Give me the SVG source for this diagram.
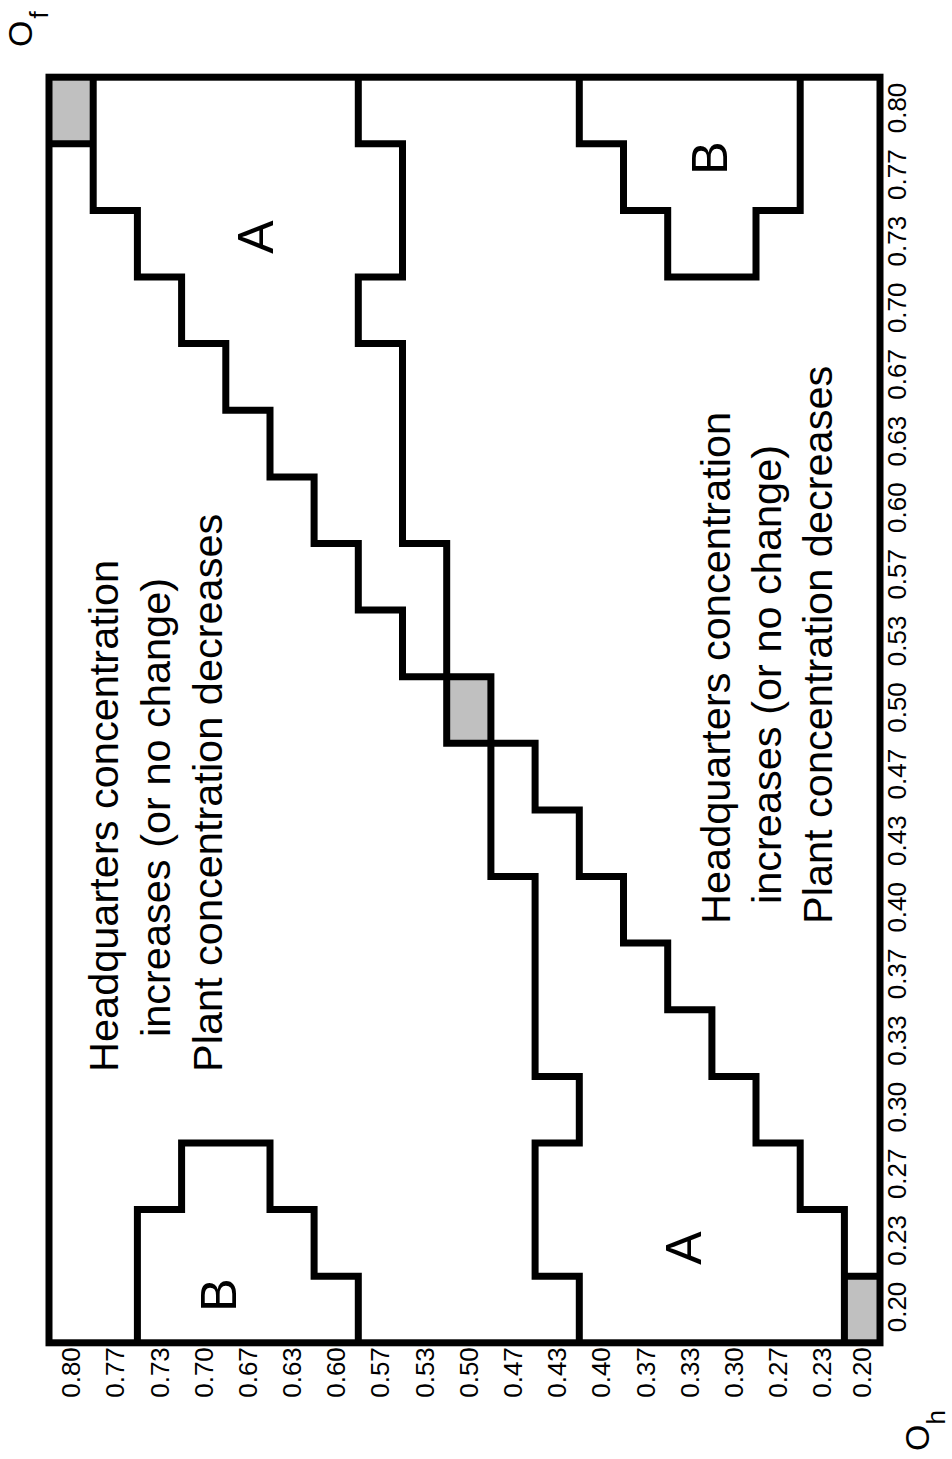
<svg xmlns="http://www.w3.org/2000/svg" width="952" height="1459" viewBox="0 0 952 1459">
<style>
.ln{fill:none;stroke:#000;stroke-width:7;stroke-linejoin:miter;stroke-linecap:butt}
.gray{fill:#c0c0c0;stroke:none}
.tk{font-family:"Liberation Sans",Arial,sans-serif;font-size:26px;fill:#000;text-anchor:middle}
.main{font-family:"Liberation Sans",Arial,sans-serif;font-size:41.5px;fill:#000;text-anchor:start}
.reg{font-family:"Liberation Sans",Arial,sans-serif;font-size:50px;fill:#000;text-anchor:middle}
.ax{font-family:"Liberation Sans",Arial,sans-serif;font-size:34px;fill:#000}
.sub{font-size:26px}
</style>
<rect width="952" height="1459" fill="#fff"/>
<g id="cells">
<rect class="gray" x="49" y="77.2" width="44.2" height="66.6"/>
<rect class="gray" x="446.7" y="676.7" width="44.2" height="66.6"/>
<rect class="gray" x="844.4" y="1276.2" width="35.6" height="66.6"/>
</g>
<g id="boundaries">
<path id="path1" class="ln" d="M93.2,77.2 V210.4 H137.4 V277 H181.6 V343.6 H225.8 V410.3 H270 V476.9 H314.1 V543.5 H358.3 V610.1 H402.5 V676.7 H490.9 V876.5 H535.1 V1076.4 H579.3 V1143 H535.1 V1276.2 H579.3 V1342.8"/>
<path id="path2" class="ln" d="M358.3,77.2 V143.8 H402.5 V277 H358.3 V343.6 H402.5 V543.5 H446.7 V743.3 H535.1 V809.9 H579.3 V876.5 H623.5 V943.1 H667.7 V1009.7 H711.9 V1076.4 H756 V1143 H800.2 V1209.6 H844.4 V1342.8"/>
<path id="bTop" class="ln" d="M579.3,77.2 V143.8 H623.5 V210.4 H667.7 V277 H756 V210.4 H800.2 V77.2"/>
<path id="bBottom" class="ln" d="M358.3,1342.8 V1276.2 H314.1 V1209.6 H270 V1143 H181.6 V1209.6 H137.4 V1342.8"/>
<path class="ln" d="M49,143.8 H93.2 M844.4,1276.2 H880"/>
</g>
<g id="frame">
<rect class="ln" x="49" y="77.2" width="831" height="1265.6"/>
</g>
<g id="region-labels">
<text class="reg" transform="translate(273,237) rotate(-90)">A</text>
<text class="reg" transform="translate(727,158) rotate(-90)">B</text>
<text class="reg" transform="translate(236,1295) rotate(-90)">B</text>
<text class="reg" transform="translate(701,1248) rotate(-90)">A</text>
</g>
<g id="text-left">
<text class="main" transform="translate(118,1072) rotate(-90)">Headquarters concentration</text>
<text class="main" transform="translate(170,1037) rotate(-90)">increases (or no change)</text>
<text class="main" transform="translate(222,1072) rotate(-90)">Plant concentration decreases</text>
</g>
<g id="text-right">
<text class="main" transform="translate(730,924) rotate(-90)">Headquarters concentration</text>
<text class="main" transform="translate(781,904) rotate(-90)">increases (or no change)</text>
<text class="main" transform="translate(832,924) rotate(-90)">Plant concentration decreases</text>
</g>
<g id="axis-of">
<text class="tk" transform="translate(906,108) rotate(-90)">0.80</text>
<text class="tk" transform="translate(906,174.6) rotate(-90)">0.77</text>
<text class="tk" transform="translate(906,241.2) rotate(-90)">0.73</text>
<text class="tk" transform="translate(906,307.8) rotate(-90)">0.70</text>
<text class="tk" transform="translate(906,374.4) rotate(-90)">0.67</text>
<text class="tk" transform="translate(906,441.1) rotate(-90)">0.63</text>
<text class="tk" transform="translate(906,507.7) rotate(-90)">0.60</text>
<text class="tk" transform="translate(906,574.3) rotate(-90)">0.57</text>
<text class="tk" transform="translate(906,640.9) rotate(-90)">0.53</text>
<text class="tk" transform="translate(906,707.5) rotate(-90)">0.50</text>
<text class="tk" transform="translate(906,774.1) rotate(-90)">0.47</text>
<text class="tk" transform="translate(906,840.7) rotate(-90)">0.43</text>
<text class="tk" transform="translate(906,907.3) rotate(-90)">0.40</text>
<text class="tk" transform="translate(906,973.9) rotate(-90)">0.37</text>
<text class="tk" transform="translate(906,1040.5) rotate(-90)">0.33</text>
<text class="tk" transform="translate(906,1107.2) rotate(-90)">0.30</text>
<text class="tk" transform="translate(906,1173.8) rotate(-90)">0.27</text>
<text class="tk" transform="translate(906,1240.4) rotate(-90)">0.23</text>
<text class="tk" transform="translate(906,1307) rotate(-90)">0.20</text>
<text class="ax" transform="translate(32,47) rotate(-90)">O<tspan class="sub" dx="2" dy="16">f</tspan></text>
</g>
<g id="axis-oh">
<text class="tk" transform="translate(80.1,1372.5) rotate(-90)">0.80</text>
<text class="tk" transform="translate(124.3,1372.5) rotate(-90)">0.77</text>
<text class="tk" transform="translate(168.5,1372.5) rotate(-90)">0.73</text>
<text class="tk" transform="translate(212.7,1372.5) rotate(-90)">0.70</text>
<text class="tk" transform="translate(256.9,1372.5) rotate(-90)">0.67</text>
<text class="tk" transform="translate(301.1,1372.5) rotate(-90)">0.63</text>
<text class="tk" transform="translate(345.2,1372.5) rotate(-90)">0.60</text>
<text class="tk" transform="translate(389.4,1372.5) rotate(-90)">0.57</text>
<text class="tk" transform="translate(433.6,1372.5) rotate(-90)">0.53</text>
<text class="tk" transform="translate(477.8,1372.5) rotate(-90)">0.50</text>
<text class="tk" transform="translate(522,1372.5) rotate(-90)">0.47</text>
<text class="tk" transform="translate(566.2,1372.5) rotate(-90)">0.43</text>
<text class="tk" transform="translate(610.4,1372.5) rotate(-90)">0.40</text>
<text class="tk" transform="translate(654.6,1372.5) rotate(-90)">0.37</text>
<text class="tk" transform="translate(698.8,1372.5) rotate(-90)">0.33</text>
<text class="tk" transform="translate(743,1372.5) rotate(-90)">0.30</text>
<text class="tk" transform="translate(787.1,1372.5) rotate(-90)">0.27</text>
<text class="tk" transform="translate(831.3,1372.5) rotate(-90)">0.23</text>
<text class="tk" transform="translate(871,1372.5) rotate(-90)">0.20</text>
<text class="ax" transform="translate(929,1451) rotate(-90)">O<tspan class="sub" dy="16">h</tspan></text>
</g>
</svg>
